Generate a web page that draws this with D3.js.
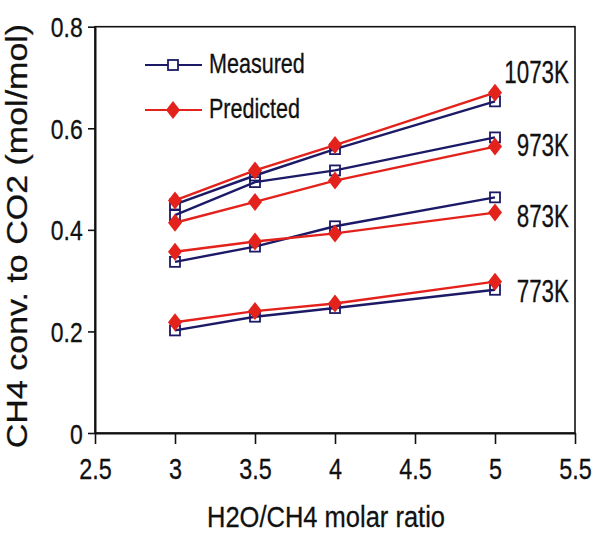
<!DOCTYPE html>
<html>
<head>
<meta charset="utf-8">
<script src="https://cdn.jsdelivr.net/npm/d3@7"></script>
<style>
  body { margin: 0; background: #fff; }
  svg { display: block; font-family: "Liberation Sans", Arial, sans-serif; }
</style>
</head>
<body>
<div id="theChart"></div>
<script>
// H2O/CH4 molar ratio
const ratios = [3, 3.5, 4, 5]
const tempLabels = ["1073K", "973K", "873K", "773K"]

// measured conversions, one array per temperature
const measured1073 = [0.450, 0.507, 0.559, 0.653]
const measured973 = [0.429, 0.494, 0.517, 0.582]
const measured873 = [0.337, 0.367, 0.407, 0.464]
const measured773 = [0.202, 0.229, 0.246, 0.282]

// predicted conversions
const predicted1073 = [0.458, 0.517, 0.567, 0.670]
const predicted973 = [0.414, 0.455, 0.497, 0.564]
const predicted873 = [0.357, 0.377, 0.393, 0.434]
const predicted773 = [0.218, 0.240, 0.255, 0.298]

// where the temperature label sits (value at the right end)
const labelValues = [0.713, 0.569, 0.429, 0.282]

const xTicks = [2.5, 3, 3.5, 4, 4.5, 5, 5.5]
const yTicks = [0, 0.2, 0.4, 0.6, 0.8]

const w = 596
const h = 538
const navy = "#1c1a66"
const red = "#e3221c"

const svg = d3.select("#theChart")
  .append("svg")
  .attr("width", w)
  .attr("height", h)

const x = d3.scaleLinear().domain([2.5, 5.5]).range([95, 575])
const y = d3.scaleLinear().domain([0, 0.8]).range([433, 26.7])

// frame
svg.append("rect")
  .attr("x", x(2.5)).attr("y", y(0.8))
  .attr("width", x(5.5) - x(2.5)).attr("height", y(0) - y(0.8))
  .attr("fill", "none").attr("stroke", "#111").attr("stroke-width", 1.6)

// x axis
const xAxis = svg.append("g")
  .attr("transform", `translate(0,${y(0)})`)
  .call(d3.axisBottom(x).tickValues(xTicks).tickSize(11).tickSizeOuter(0)
    .tickFormat(d => d3.format("")(d)))
xAxis.select(".domain").attr("stroke", "#111").attr("stroke-width", 2)
xAxis.selectAll(".tick line").attr("stroke", "#111").attr("stroke-width", 1.6)
xAxis.selectAll(".tick text")
  .attr("y", 46).attr("dy", null)
  .attr("transform", "scale(0.78,1)")
  .style("font-size", "30px").attr("fill", "#111")
  .attr("stroke", "#111").attr("stroke-width", 0.3)

// y axis
const yAxis = svg.append("g")
  .attr("transform", `translate(${x(2.5)},0)`)
  .call(d3.axisLeft(y).tickValues(yTicks).tickSize(7).tickSizeOuter(0)
    .tickFormat(d => d3.format("")(d)))
yAxis.select(".domain").attr("stroke", "#111").attr("stroke-width", 2)
yAxis.selectAll(".tick line").attr("stroke", "#111").attr("stroke-width", 1.6)
yAxis.selectAll(".tick text")
  .attr("x", -15).attr("dy", "0.36em")
  .attr("transform", "scale(0.82,1)")
  .style("font-size", "28px").attr("fill", "#111")
  .attr("stroke", "#111").attr("stroke-width", 0.3)

// axis titles
svg.append("text")
  .attr("transform", "translate(326,527) scale(0.85,1)")
  .attr("text-anchor", "middle")
  .style("font-size", "30px").attr("fill", "#111")
  .attr("stroke", "#111").attr("stroke-width", 0.3)
  .text("H2O/CH4 molar ratio")

svg.append("text")
  .attr("transform", "translate(27,236) rotate(-90) scale(1,0.87)")
  .attr("text-anchor", "middle")
  .style("font-size", "34px").attr("fill", "#111")
  .attr("stroke", "#111").attr("stroke-width", 0.3)
  .text("CH4 conv. to CO2 (mol/mol)")

const line = d3.line()
  .x((d, i) => x(ratios[i]))
  .y(d => y(d))

const measuredSets = [measured1073, measured973, measured873, measured773]
const predictedSets = [predicted1073, predicted973, predicted873, predicted773]

const diamond = "M0,-9L7,0L0,9L-7,0Z"

function drawMeasured(g, vals) {
  g.append("path").attr("d", line(vals))
    .attr("fill", "none").attr("stroke", navy).attr("stroke-width", 2.4)
  g.selectAll("rect.m").data(vals).enter().append("rect")
    .attr("class", "m")
    .attr("x", (d, i) => x(ratios[i]) - 5)
    .attr("y", d => y(d) - 5)
    .attr("width", 10).attr("height", 10)
    .attr("fill", "none").attr("stroke", navy).attr("stroke-width", 1.8)
}

function drawPredicted(g, vals) {
  g.append("path").attr("d", line(vals))
    .attr("fill", "none").attr("stroke", red).attr("stroke-width", 2.4)
  g.selectAll("path.p").data(vals).enter().append("path")
    .attr("class", "p")
    .attr("d", diamond)
    .attr("transform", (d, i) => `translate(${x(ratios[i])},${y(d)})`)
    .attr("fill", red)
}

const plot = svg.append("g")
measuredSets.forEach(vals => drawMeasured(plot.append("g"), vals))
predictedSets.forEach(vals => drawPredicted(plot.append("g"), vals))

// temperature labels
svg.selectAll("text.temp")
  .data(tempLabels)
  .enter()
  .append("text")
  .attr("class", "temp")
  .attr("transform", (d, i) => `translate(569,${y(labelValues[i]) + 12}) scale(0.7,1)`)
  .attr("text-anchor", "end")
  .style("font-size", "32px").attr("fill", "#111")
  .attr("stroke", "#111").attr("stroke-width", 0.3)
  .text(d => d)

// legend
const legend = svg.append("g").attr("id", "legend")
const legendItems = [
  { text: "Measured", color: navy, yPos: 65, kind: "square" },
  { text: "Predicted", color: red, yPos: 110, kind: "diamond" },
]
legendItems.forEach(item => {
  legend.append("line")
    .attr("x1", 145).attr("x2", 202)
    .attr("y1", item.yPos).attr("y2", item.yPos)
    .attr("stroke", item.color).attr("stroke-width", 2)
  if (item.kind === "square") {
    legend.append("rect")
      .attr("x", 168).attr("y", item.yPos - 5)
      .attr("width", 10).attr("height", 10)
      .attr("fill", "#fff").attr("stroke", item.color).attr("stroke-width", 1.8)
  } else {
    legend.append("path")
      .attr("d", diamond)
      .attr("transform", `translate(173,${item.yPos})`)
      .attr("fill", item.color)
  }
  legend.append("text")
    .attr("transform", `translate(209,${item.yPos + 8}) scale(0.77,1)`)
    .style("font-size", "28px").attr("fill", "#111")
    .attr("stroke", "#111").attr("stroke-width", 0.3)
    .text(item.text)
})
</script>
</body>
</html>
